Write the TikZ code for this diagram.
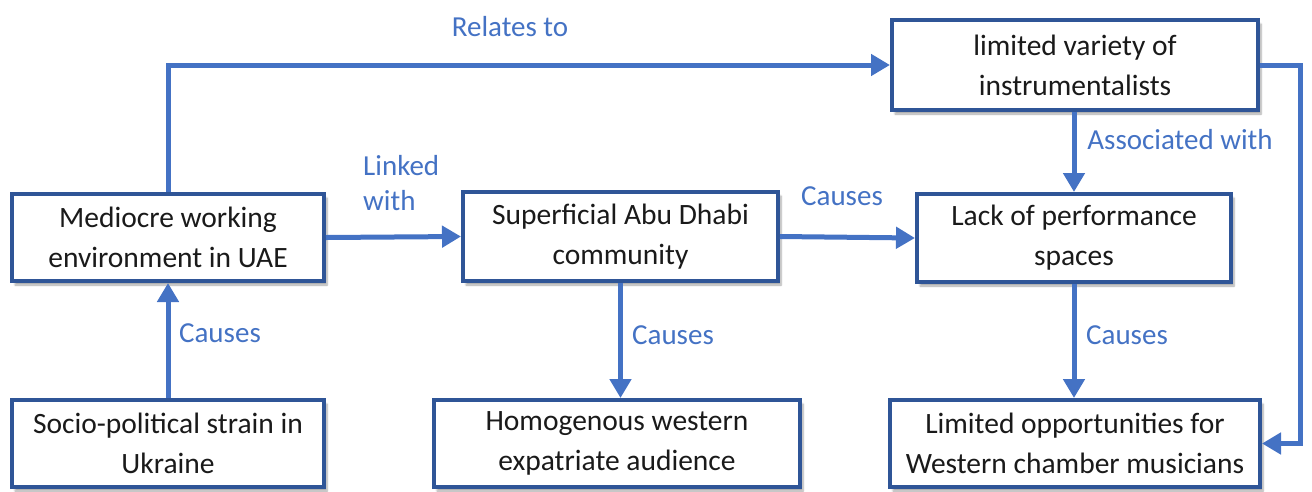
\documentclass[tikz,border=0pt]{standalone}
\usepackage{fontspec}
\setmainfont{Carlito}
\usetikzlibrary{arrows.meta,shadows.blur}
\definecolor{boxblue}{HTML}{2F5597}
\definecolor{arrowblue}{HTML}{4472C4}
\definecolor{txt}{HTML}{1A1A1A}
\begin{document}
\begin{tikzpicture}[x=1pt,y=-1pt,
  box/.style={draw=boxblue, line width=4pt, fill=white, inner sep=0pt,
    align=center, text=txt, font=\fontsize{29.5}{40}\selectfont,
    blur shadow={shadow xshift=3pt, shadow yshift=-4pt, shadow blur steps=6, shadow opacity=35}},
  arr/.style={draw=arrowblue, line width=5pt, -{Triangle[length=19pt,width=21pt]}},
  lbl/.style={text=arrowblue, font=\fontsize{29}{35}\selectfont, inner sep=0pt}]
\useasboundingbox (0,0) rectangle (1312,491);
% boxes
\node[box, minimum width=312pt, minimum height=87pt] (work) at (168,237.5) {Mediocre working\\environment in UAE};
\node[box, minimum width=312pt, minimum height=87pt] (ukr) at (168,443.5) {Socio-political strain in\\Ukraine};
\node[box, minimum width=315pt, minimum height=89pt] (comm) at (620.5,236.5) {Superficial Abu Dhabi\\community};
\node[box, minimum width=366pt, minimum height=87pt] (aud) at (617,443.5) {Homogenous western\\expatriate audience};
\node[box, minimum width=366pt, minimum height=90pt] (var) at (1075,65) {limited variety of\\instrumentalists};
\node[box, minimum width=314pt, minimum height=88pt] (space) at (1074,238) {Lack of performance\\spaces};
\node[box, minimum width=370pt, minimum height=87pt] (opp) at (1075,443.5) {Limited opportunities for\\Western chamber musicians};
% connectors
\draw[arr] (work.north) |- (var.west);
\draw[arr] (work.east) -- (comm.west);
\draw[arr] (comm.east) -- (space.west);
\draw[arr] (var.south -| space.north) -- (space.north);
\draw[arr] (comm.south) -- (comm.south |- aud.north);
\draw[arr] (space.south) -- (space.south |- opp.north);
\draw[arr] (ukr.north) -- (work.south);
\coordinate (rt) at (1300,65);
\draw[arr] (var.east) -- (rt) |- (opp.east);
% labels
\node[lbl] (l1) at (510,27) {Relates to};
\node[lbl, anchor=west, align=left] (l2) at (363,183) {Linked\\with};
\node[lbl] (l3) at (842,196) {Causes};
\node[lbl] (l4) at (1180,140) {Associated with};
\node[lbl] (l5) at (673,335) {Causes};
\node[lbl] (l6) at (1127,335) {Causes};
\node[lbl] (l7) at (220,333) {Causes};
\end{tikzpicture}
\end{document}
